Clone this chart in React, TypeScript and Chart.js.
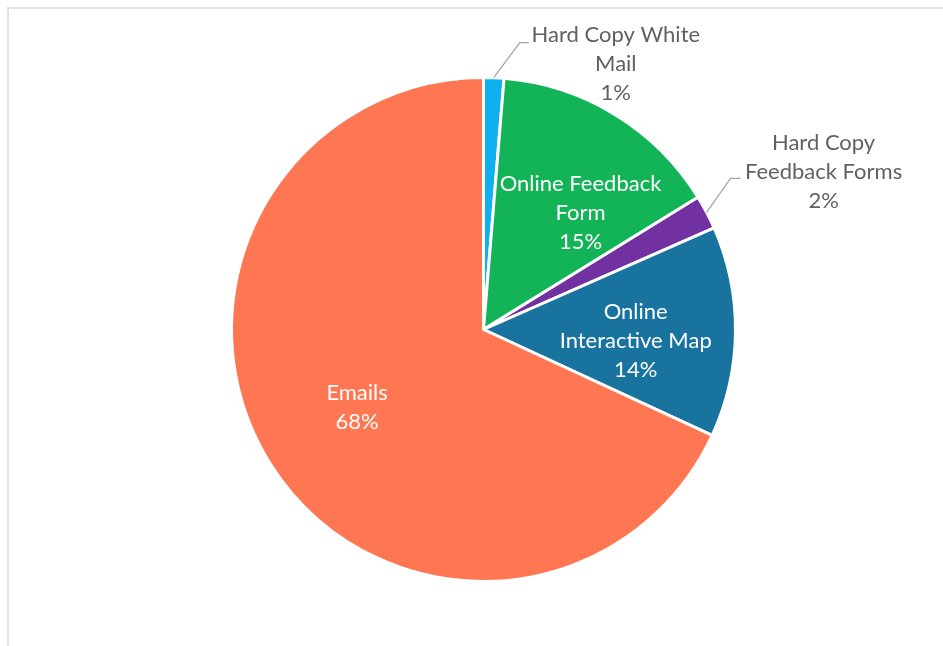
import React, { useEffect, useRef } from "react";
import { Chart, registerables } from "chart.js";

Chart.register(...registerables);

const categories = [
  "Hard Copy White Mail",
  "Online Feedback Form",
  "Hard Copy Feedback Forms",
  "Online Interactive Map",
  "Emails",
];
const labelLines = [
  ["Hard Copy White", "Mail"],
  ["Online Feedback", "Form"],
  ["Hard Copy", "Feedback Forms"],
  ["Online", "Interactive Map"],
  ["Emails"],
];
const shares = [1.3, 14.9, 2.2, 13.5, 68.1];
const percentLabels = ["1%", "15%", "2%", "14%", "68%"];
const colors = ["#0fb0ef", "#13b357", "#7131a1", "#18739f", "#ff7652"];

// label placement: inside -> offset from 0.6R point on bisector; outside -> leader line
const placements = [
  { kind: "outside", elbow: [26, -35], end: [35, -35], center: [122, -14] },
  { kind: "inside", r: 0.6, off: [18, 12] },
  { kind: "outside", elbow: [24, -34], end: [34, -34], center: [117, -40] },
  { kind: "inside", r: 0.6, off: [1, 10] },
  { kind: "inside", r: 0.6, off: [1, -4] },
];

const FONT = '22px Lato';
const LINE_H = 29;

const labelPlugin = {
  id: "sliceLabels",
  afterDatasetsDraw(chart: any) {
    const meta = chart.getDatasetMeta(0);
    const ctx = chart.ctx;
    ctx.save();
    ctx.font = FONT;
    ctx.textAlign = "center";
    ctx.textBaseline = "middle";
    meta.data.forEach((arc: any, i: number) => {
      const p = arc.getProps(["x", "y", "startAngle", "endAngle", "outerRadius"], true);
      const mid = (p.startAngle + p.endAngle) / 2;
      const pl: any = placements[i];
      const lines = [...labelLines[i], percentLabels[i]];
      let cx: number, cy: number;
      if (pl.kind === "inside") {
        cx = p.x + Math.cos(mid) * p.outerRadius * pl.r + pl.off[0];
        cy = p.y + Math.sin(mid) * p.outerRadius * pl.r + pl.off[1];
        ctx.fillStyle = "#ffffff";
      } else {
        const ex = p.x + Math.cos(mid) * p.outerRadius;
        const ey = p.y + Math.sin(mid) * p.outerRadius;
        ctx.strokeStyle = "#a6a6a6";
        ctx.lineWidth = 1.3;
        ctx.beginPath();
        ctx.moveTo(ex, ey);
        ctx.lineTo(ex + pl.elbow[0], ey + pl.elbow[1]);
        ctx.lineTo(ex + pl.end[0], ey + pl.end[1]);
        ctx.stroke();
        cx = ex + pl.center[0];
        cy = ey + pl.center[1];
        ctx.fillStyle = "#616161";
      }
      const top = cy - ((lines.length - 1) * LINE_H) / 2;
      lines.forEach((t, k) => ctx.fillText(t, cx, top + k * LINE_H));
    });
    ctx.restore();
  },
};

export default function App() {
  const ref = useRef<HTMLCanvasElement>(null);
  useEffect(() => {
    if (!ref.current) return;
    const chart = new Chart(ref.current, {
      type: "pie",
      data: {
        labels: categories,
        datasets: [
          {
            data: shares,
            backgroundColor: colors,
            borderColor: "#ffffff",
            borderWidth: 3,
          },
        ],
      },
      options: {
        responsive: true,
        maintainAspectRatio: false,
        animation: false,
        layout: { padding: { left: 221, right: 198, top: 67, bottom: 56 } },
        plugins: {
          legend: { display: false },
          tooltip: { enabled: false },
        },
      },
      plugins: [labelPlugin],
    });
    return () => chart.destroy();
  }, []);
  return (
    <div
      style={{
        position: "fixed",
        left: 7,
        top: 7,
        width: 940,
        height: 645,
        borderLeft: "2px solid #e2e2e2",
        borderTop: "2px solid #e2e2e2",
        overflow: "hidden",
      }}
    >
      <div style={{ position: "relative", width: 926, height: 630 }}>
        <canvas ref={ref} />
      </div>
    </div>
  );
}
